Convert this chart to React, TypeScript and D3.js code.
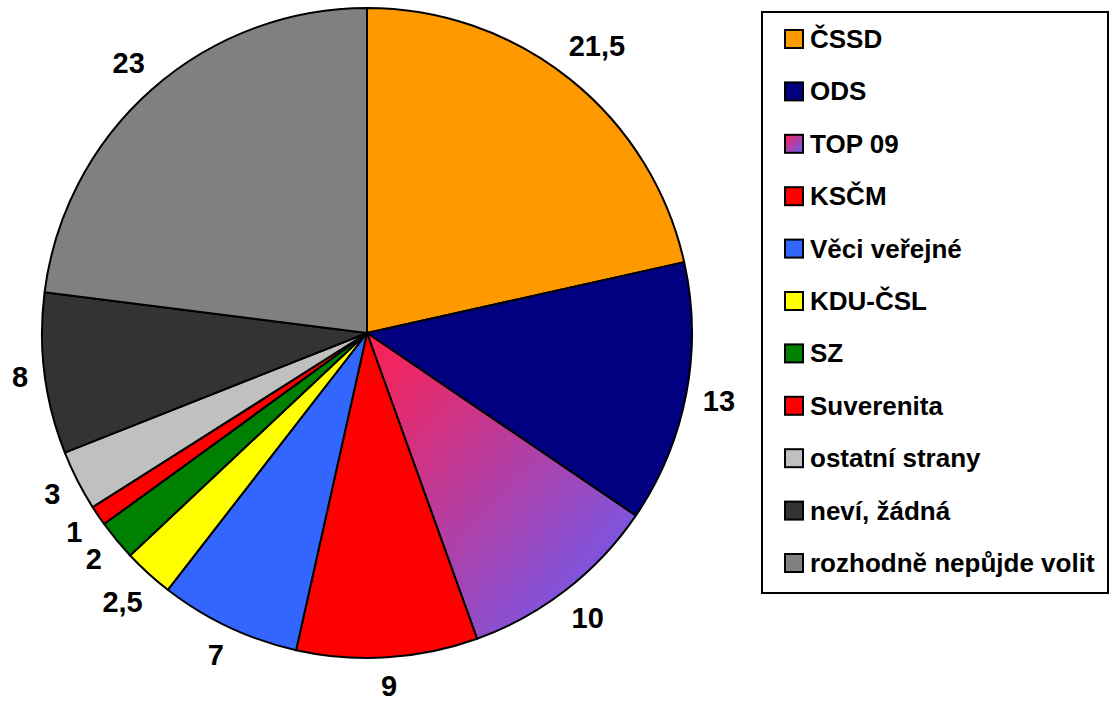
import React from 'react';
import * as d3 from 'd3';

const parties = ['ČSSD', 'ODS', 'TOP 09', 'KSČM', 'Věci veřejné', 'KDU-ČSL', 'SZ', 'Suverenita', 'ostatní strany', 'neví, žádná', 'rozhodně nepůjde volit'];
const values = [21.5, 13, 10, 9, 7, 2.5, 2, 1, 3, 8, 23];
const valueLabels = ['21,5', '13', '10', '9', '7', '2,5', '2', '1', '3', '8', '23'];
const colors = ['#FF9900', '#000080', 'url(#top09)', '#FF0000', '#3366FF', '#FFFF00', '#008000', '#FF0000', '#C0C0C0', '#333333', '#808080'];

const font = '"Liberation Sans", Arial, sans-serif';

export default function App() {
  const width = 1109, height = 706;
  const cx = 367, cy = 333, r = 325;

  const pie = d3.pie<number>().sort(null).value(d => d);
  const arcs = pie(values);
  const arc = d3.arc<d3.PieArcDatum<number>>().innerRadius(0).outerRadius(r);

  const labelSize = 29;
  const legendX = 762, legendY = 12, legendW = 346, legendH = 581;
  const rowY = d3.scaleLinear().domain([0, parties.length - 1]).range([39, 563]);

  return (
    <svg width={width} height={height} style={{ position: 'absolute', left: 0, top: 0 }}>
      <defs>
        <linearGradient id="top09" x1="0" y1="0" x2="1" y2="1">
          <stop offset="0" stopColor="#FF2050" />
          <stop offset="1" stopColor="#6060FF" />
        </linearGradient>
      </defs>
      <g transform={`translate(${cx},${cy})`}>
        {arcs.map((a, i) => (
          <path key={i} d={arc(a) || ''} fill={colors[i]} stroke="#000" strokeWidth={2} strokeLinejoin="round" />
        ))}
        {arcs.map((a, i) => {
          const mid = (a.startAngle + a.endAngle) / 2;
          const s = Math.sin(mid), c = Math.cos(mid);
          const lbl = valueLabels[i];
          const w = lbl.replace(',', '').length * 0.556 * labelSize + (lbl.includes(',') ? 0.278 * labelSize : 0);
          const R = r + 15 + (w / 2) * Math.abs(s) + 13 * Math.abs(c);
          return (
            <text key={'l' + i} x={R * s} y={-R * c + 0.36 * labelSize} textAnchor="middle"
              fontFamily={font} fontWeight="bold" fontSize={labelSize} fill="#000">
              {lbl}
            </text>
          );
        })}
      </g>
      <rect x={legendX} y={legendY} width={legendW} height={legendH} fill="#fff" stroke="#000" strokeWidth={2} />
      {parties.map((p, i) => (
        <g key={p} transform={`translate(785,${rowY(i)})`}>
          <rect x={0} y={-9} width={18} height={18} fill={colors[i]} stroke="#000" strokeWidth={2} />
          <text x={25} y={9} fontFamily={font} fontWeight="bold" fontSize={26} fill="#000">
            {p}
          </text>
        </g>
      ))}
    </svg>
  );
}
